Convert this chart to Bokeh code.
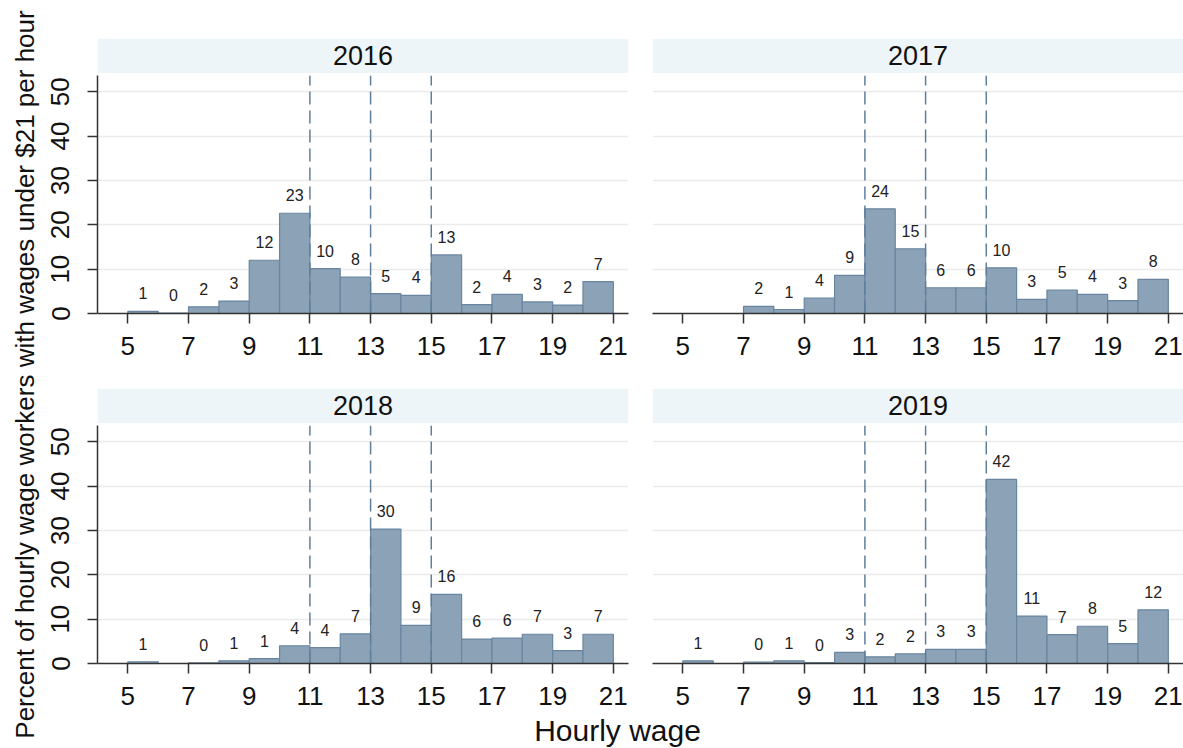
import math
from bokeh.plotting import figure
from bokeh.layouts import row, column
from bokeh.models import (ColumnDataSource, FixedTicker, BoxAnnotation, Label,
                          Grid, LinearAxis, Range1d)
from bokeh.embed import file_html
from bokeh.resources import INLINE
from bokeh.core.properties import value

# ---------------- data ----------------
years = ["2016", "2017", "2018", "2019"]
bin_left = [5, 6, 7, 8, 9, 10, 11, 12, 13, 14, 15, 16, 17, 18, 19, 20]

share_2016 = [0.5, 0.1, 1.5, 2.8, 12.0, 22.6, 10.1, 8.2, 4.5, 4.1, 13.2, 2.0, 4.3, 2.6, 1.9, 7.2]
label_2016 = ["1", "0", "2", "3", "12", "23", "10", "8", "5", "4", "13", "2", "4", "3", "2", "7"]

share_2017 = [None, None, 1.6, 0.9, 3.5, 8.6, 23.6, 14.6, 5.8, 5.8, 10.3, 3.2, 5.3, 4.3, 2.9, 7.7]
label_2017 = [None, None, "2", "1", "4", "9", "24", "15", "6", "6", "10", "3", "5", "4", "3", "8"]

share_2018 = [0.4, None, 0.15, 0.6, 1.1, 4.0, 3.6, 6.7, 30.3, 8.6, 15.6, 5.5, 5.7, 6.6, 2.9, 6.6]
label_2018 = ["1", None, "0", "1", "1", "4", "4", "7", "30", "9", "16", "6", "6", "7", "3", "7"]

share_2019 = [0.6, None, 0.3, 0.6, 0.2, 2.5, 1.5, 2.2, 3.2, 3.2, 41.5, 10.7, 6.5, 8.4, 4.5, 12.1]
label_2019 = ["1", None, "0", "1", "0", "3", "2", "2", "3", "3", "42", "11", "7", "8", "5", "12"]

min_wage_lines = [11, 13, 15]
x_ticks = [5, 7, 9, 11, 13, 15, 17, 19, 21]
y_ticks = [0, 10, 20, 30, 40, 50]
grid_ticks = [10, 20, 30, 40, 50]

y_title = "Percent of hourly wage workers with wages under $21 per hour"
x_title = "Hourly wage"

# ---------------- style ----------------
FONT = "Liberation Sans"
BAR_FILL = "#8ba2b7"
BAR_LINE = "#6985a0"
DASH_COLOR = "#5f7e9a"
STRIP_FILL = "#eef5f9"
AXIS_COLOR = "#333333"

X_START = 4.0
X_END = 21.5
Y_TOP = 62.0
AXIS_TOP = 53.6
STRIP_BOTTOM = 54.2


def drop_default_grids(p):
    p.center = [r for r in p.center if not isinstance(r, Grid)]


def panel(year, shares, labels, left_col, top_row):
    p = figure(frame_width=531, frame_height=275,
               x_range=Range1d(X_START, X_END), y_range=Range1d(0, Y_TOP),
               output_backend="svg", toolbar_location=None,
               x_axis_location=None, y_axis_location=None,
               min_border_left=57 if left_col else 12,
               min_border_right=12 if left_col else 0,
               min_border_top=38 if top_row else 8,
               min_border_bottom=67 if top_row else 50)
    p.outline_line_color = None
    p.background_fill_color = "white"
    drop_default_grids(p)

    grid = Grid(dimension=1, ticker=FixedTicker(ticks=grid_ticks),
                grid_line_color="#ebebeb", grid_line_width=1.5)
    p.add_layout(grid)

    strip = BoxAnnotation(bottom=STRIP_BOTTOM, fill_color=STRIP_FILL, fill_alpha=1.0,
                          line_color=None, level="underlay")
    p.add_layout(strip)
    p.add_layout(Label(x=(X_START + X_END) / 2, y=(STRIP_BOTTOM + Y_TOP) / 2,
                       text=year, text_align="center", text_baseline="middle",
                       text_font=FONT, text_font_size="27px", text_color="#111111"))

    xs_l, xs_r, xs_c, tops, labs = [], [], [], [], []
    for b, s, l in zip(bin_left, shares, labels):
        if s is None:
            continue
        xs_l.append(b)
        xs_r.append(b + 1)
        xs_c.append(b + 0.5)
        tops.append(s)
        labs.append(l)
    src = ColumnDataSource(dict(left=xs_l, right=xs_r, center=xs_c, top=tops, label=labs))

    p.quad(left="left", right="right", bottom=0, top="top", source=src,
           fill_color=BAR_FILL, line_color=BAR_LINE, line_width=1.2)
    p.text(x="center", y="top", text="label", source=src,
           text_align="center", text_baseline="middle", y_offset=-18,
           text_font=value(FONT), text_font_size=value("16px"), text_color="#222222")

    p.segment(x0=min_wage_lines, y0=[0] * len(min_wage_lines),
              x1=min_wage_lines, y1=[AXIS_TOP] * len(min_wage_lines),
              line_color=DASH_COLOR, line_width=1.5, line_dash="13 6")

    xaxis = LinearAxis(ticker=FixedTicker(ticks=x_ticks))
    xaxis.axis_line_color = AXIS_COLOR
    xaxis.axis_line_width = 1.5
    xaxis.major_tick_line_color = AXIS_COLOR
    xaxis.major_tick_line_width = 1.5
    xaxis.major_tick_out = 10
    xaxis.major_tick_in = 0
    xaxis.minor_tick_out = 0
    xaxis.minor_tick_in = 0
    xaxis.major_label_standoff = 13
    xaxis.major_label_text_font = FONT
    xaxis.major_label_text_font_size = "26px"
    xaxis.major_label_text_color = "#111111"
    p.add_layout(xaxis, "below")

    if left_col:
        yaxis = LinearAxis(ticker=FixedTicker(ticks=y_ticks), bounds=(0, AXIS_TOP))
        yaxis.axis_line_color = AXIS_COLOR
        yaxis.axis_line_width = 1.5
        yaxis.major_tick_line_color = AXIS_COLOR
        yaxis.major_tick_line_width = 1.5
        yaxis.major_tick_out = 10
        yaxis.major_tick_in = 0
        yaxis.minor_tick_out = 0
        yaxis.minor_tick_in = 0
        yaxis.major_label_orientation = "vertical"
        yaxis.major_label_standoff = 18
        yaxis.major_label_text_font = FONT
        yaxis.major_label_text_font_size = "26px"
        yaxis.major_label_text_color = "#111111"
        p.add_layout(yaxis, "left")
    return p


p16 = panel(years[0], share_2016, label_2016, True, True)
p17 = panel(years[1], share_2017, label_2017, False, True)
p18 = panel(years[2], share_2018, label_2018, True, False)
p19 = panel(years[3], share_2019, label_2019, False, False)

# x title strip
xfig = figure(width=1143, height=35, x_range=Range1d(0, 1143), y_range=Range1d(0, 35),
              output_backend="svg", toolbar_location=None,
              x_axis_location=None, y_axis_location=None, min_border=0)
xfig.outline_line_color = None
drop_default_grids(xfig)
xfig.add_layout(Label(x=577, y=35, text=x_title, text_align="center",
                      text_baseline="top", text_font=FONT,
                      text_font_size="30px", text_color="#111111"))

# y title strip
yfig = figure(width=40, height=748, x_range=Range1d(0, 40), y_range=Range1d(0, 748),
              output_backend="svg", toolbar_location=None,
              x_axis_location=None, y_axis_location=None, min_border=0)
yfig.outline_line_color = None
drop_default_grids(yfig)
yfig.add_layout(Label(x=24, y=374, text=y_title, angle=math.pi / 2,
                      text_align="center", text_baseline="middle",
                      text_font=FONT, text_font_size="26px", text_color="#111111"))

layout = row(yfig, column(row(p16, p17), row(p18, p19), xfig))

open("out.html", "w").write(file_html(layout, INLINE))
